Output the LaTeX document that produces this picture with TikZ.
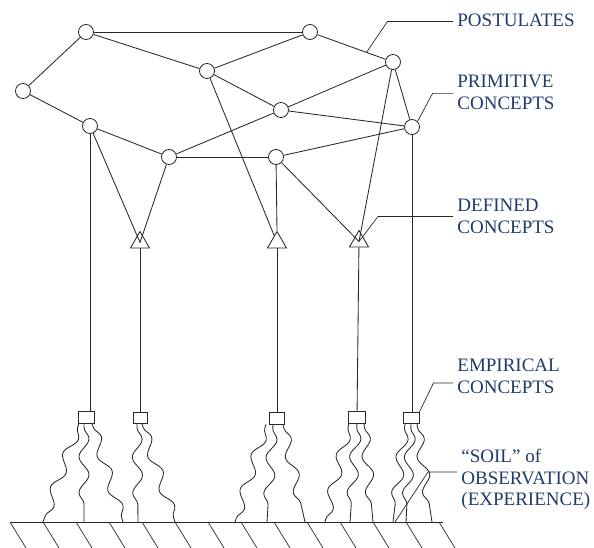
\documentclass[tikz,border=0pt]{standalone}
\usepackage{fontspec}
\setmainfont{Liberation Serif}
\usetikzlibrary{shapes.geometric,decorations.pathmorphing}
\definecolor{labelblue}{RGB}{32,58,108}
\definecolor{linegray}{RGB}{40,40,40}

\begin{document}
\begin{tikzpicture}[x=1pt,y=-1pt,line width=0.85pt,color=linegray,
    concept/.style={circle,draw,fill=white,minimum size=15pt,inner sep=0pt},
    defined/.style={regular polygon,regular polygon sides=3,draw,fill=white,minimum size=22pt,inner sep=0pt},
    empirical/.style={rectangle,draw,fill=white,minimum width=16pt,minimum height=12pt,inner sep=0pt},
    leader/.style={line width=0.7pt},
    wavy/.style={decorate,decoration={snake,amplitude=5pt,segment length=36pt,pre length=4pt,post length=2pt}},
    tag/.style={anchor=west,inner sep=4pt,align=left,text=labelblue,font=\fontsize{19}{21.5}\selectfont}]
  \useasboundingbox (0,0) rectangle (594,548);

  % Postulates and primitive concepts
  \node[concept] (A) at (86,32) {};
  \node[concept] (B) at (23,91) {};
  \node[concept] (C) at (207,71) {};
  \node[concept] (D) at (310,32) {};
  \node[concept] (E) at (393,62) {};
  \node[concept] (F) at (281,110) {};
  \node[concept] (G) at (412,127) {};
  \node[concept] (H) at (90,126) {};
  \node[concept] (I) at (169,157) {};
  \node[concept] (J) at (276,157) {};

  % Defined concepts
  \node[defined] (T1) at (140,242.5) {};
  \node[defined] (T3) at (277,242.5) {};
  \node[defined] (T4) at (359,241.5) {};

  % Empirical concepts
  \node[empirical] (B1) at (86,417) {};
  \node[empirical,minimum width=14pt,minimum height=11pt] (B2) at (140,418) {};
  \node[empirical,minimum width=15pt] (B3) at (277,418) {};
  \node[empirical,minimum width=17pt] (B4) at (357,417) {};
  \node[empirical,minimum height=11pt] (B5) at (411,418) {};

  % Network
  \draw (A) -- (D);
  \draw (A) -- (B);
  \draw (A) -- (C);
  \draw (C) -- (D);
  \draw (D) -- (E);
  \draw (C) -- (F);
  \draw (C) -- (T3);
  \draw (B) -- (H);
  \draw (H) -- (I);
  \draw (I) -- (F);
  \draw (I) -- (J);
  \draw (F) -- (E);
  \draw (F) -- (G);
  \draw (J) -- (G);
  \draw (E) -- (G);
  \draw (H) -- (T1.center);
  \draw (I) -- (T1.center);
  \draw (E) -- (T4.center);
  \draw (J) -- (T4.center);
  \draw (J) -- (T3.north);

  % Rules of correspondence
  \draw (H) -- (H |- B1.north);
  \draw (G) -- (G |- B5.north);
  \draw (T1) -- (B2);
  \draw (T3) -- (B3);
  \draw (T4) -- (B4);

  % Soil of observation
  \coordinate (groundL) at (10,522);
  \coordinate (groundR) at (443,522);
  \draw (groundL) -- (groundR);
  \foreach \x in {10,43,...,439}
    \draw[line width=0.7pt] (\x,522) -- ++(16,26);

  \foreach \b/\dx/\gx [count=\i] in {B1/-7/43, B1/-2/84, B1/6/123,
      B2/-3/138, B2/2/175,
      B3/-11/235, B3/-4/267, B3/6/305,
      B4/-8/325, B4/0/350, B4/7/373,
      B5/-6/393, B5/0/406, B5/6/432} {
    \coordinate (soil\i) at (\gx,522);
    \draw[wavy] ([xshift=\dx pt]\b.south) -- (soil\i);
  }

  % Labels
  \node[tag] (post) at (453,20) {POSTULATES};
  \node[tag] (prim) at (453,92.5) {PRIMITIVE\\CONCEPTS};
  \node[tag] (def) at (453,216.5) {DEFINED\\CONCEPTS};
  \node[tag] (emp) at (453,376.5) {EMPIRICAL\\CONCEPTS};
  \node[tag] (soil) at (457,479.5) {“SOIL” of\\OBSERVATION\\(EXPERIENCE)};

  % Leaders
  \path (D) -- (E) coordinate[pos=0.72] (postTip);
  \draw[leader] (postTip) -- ++(21,-31) coordinate (postBend) -- (postBend -| post.west);
  \draw[leader] (G.north east) -- ++(15,-28) coordinate (primBend) -- (primBend -| prim.west);
  \draw[leader] (T4.center) -- ++(19,-25) coordinate (defBend) -- (defBend -| def.west);
  \draw[leader] (B5.north east) -- ++(14,-29) coordinate (empBend) -- (empBend -| emp.west);
  \coordinate (soilTip) at (395,522);
  \draw[leader] (soilTip) -- ++(33,-50) coordinate (soilBend) -- (soilBend -| soil.west);
\end{tikzpicture}
\end{document}
